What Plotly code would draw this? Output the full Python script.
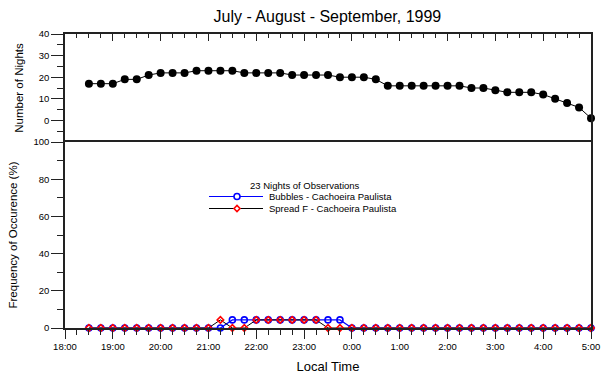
import plotly.graph_objects as go

# ---- data ----
times = ["18:30", "18:45", "19:00", "19:15", "19:30", "19:45", "20:00", "20:15", "20:30", "20:45",
         "21:00", "21:15", "21:30", "21:45", "22:00", "22:15", "22:30", "22:45", "23:00", "23:15",
         "23:30", "23:45", "0:00", "0:15", "0:30", "0:45", "1:00", "1:15", "1:30", "1:45",
         "2:00", "2:15", "2:30", "2:45", "3:00", "3:15", "3:30", "3:45", "4:00", "4:15",
         "4:30", "4:45", "5:00"]

nights = [17, 17, 17, 19, 19, 21, 22, 22, 22, 23,
          23, 23, 23, 22, 22, 22, 22, 21, 21, 21,
          21, 20, 20, 20, 19, 16, 16, 16, 16, 16,
          16, 16, 15, 15, 14, 13, 13, 13, 12, 10,
          8, 6, 1]

bubbles = [0, 0, 0, 0, 0, 0, 0, 0, 0, 0,
           0, 0, 4.35, 4.35, 4.35, 4.35, 4.35, 4.35, 4.35, 4.35,
           4.35, 4.35, 0, 0, 0, 0, 0, 0, 0, 0,
           0, 0, 0, 0, 0, 0, 0, 0, 0, 0,
           0, 0, 0]

spread_f = [0, 0, 0, 0, 0, 0, 0, 0, 0, 0,
            0, 4.35, 0, 0, 4.35, 4.35, 4.35, 4.35, 4.35, 4.35,
            0, 0, 0, 0, 0, 0, 0, 0, 0, 0,
            0, 0, 0, 0, 0, 0, 0, 0, 0, 0,
            0, 0, 0]

tick_labels = ["18:00", "19:00", "20:00", "21:00", "22:00", "23:00",
               "0:00", "1:00", "2:00", "3:00", "4:00", "5:00"]

legend_title = "23 Nights of Observations"
series_names = ["Bubbles - Cachoeira Paulista", "Spread F - Cachoeira Paulista"]


def to_hours(t):
    h, m = t.split(":")
    h = int(h)
    if h < 12:
        h += 24
    return h + int(m) / 60.0


x = [to_hours(t) for t in times]
tick_vals = [to_hours(t) for t in tick_labels]

FONT = "Liberation Sans, Arial, sans-serif"
AX = "#222222"
BLUE = "#0000ff"
RED = "#ff0000"

fig = go.Figure()

fig.add_trace(go.Scatter(
    x=x, y=nights, xaxis="x", yaxis="y", mode="lines+markers",
    line=dict(color="black", width=1),
    marker=dict(color="black", size=8, symbol="circle"),
    showlegend=False, cliponaxis=False))

fig.add_trace(go.Scatter(
    x=x, y=bubbles, xaxis="x2", yaxis="y2", mode="lines+markers",
    name=series_names[0],
    line=dict(color=BLUE, width=1.2),
    marker=dict(color=BLUE, size=6, symbol="circle-open", line=dict(width=1.6)),
    showlegend=False, cliponaxis=False))

fig.add_trace(go.Scatter(
    x=x, y=spread_f, xaxis="x2", yaxis="y2", mode="lines+markers",
    name=series_names[1],
    line=dict(color="black", width=1),
    marker=dict(color=RED, size=5, symbol="diamond-open", line=dict(width=1.6)),
    showlegend=False, cliponaxis=False))

split = 186 / 294

# ---- compact legend drawn as decoration (paper coordinates) ----
W, H = 603, 374
L, R, T, B = 65, 12, 34, 46
pw, ph = W - L - R, H - T - B


def px(xp):
    return (xp - L) / pw


def py(yp):
    return (H - B - yp) / ph


shapes = []
annotations = []
annotations.append(dict(text=legend_title, xref="paper", yref="paper", x=px(305), y=py(185),
                        xanchor="center", yanchor="middle", showarrow=False,
                        font=dict(size=9.5, family=FONT, color="black")))
for i, (nm, lc, mc) in enumerate(zip(series_names, [BLUE, "black"], [BLUE, RED])):
    yy = 196.5 + 12 * i
    shapes.append(dict(type="line", xref="paper", yref="paper", x0=px(209), x1=px(263),
                       y0=py(yy), y1=py(yy), line=dict(color=lc, width=1.2)))
    if i == 0:
        shapes.append(dict(type="circle", xref="paper", yref="paper",
                           x0=px(234), x1=px(240), y0=py(yy - 3), y1=py(yy + 3),
                           line=dict(color=mc, width=1.6), fillcolor="white"))
    else:
        cx, cy = px(237), py(yy)
        dx, dy = 3 / pw, 3 / ph
        shapes.append(dict(type="path", xref="paper", yref="paper",
                           path=f"M {cx - dx} {cy} L {cx} {cy + dy} L {cx + dx} {cy} L {cx} {cy - dy} Z",
                           line=dict(color=mc, width=1.6), fillcolor="white"))
    annotations.append(dict(text=nm, xref="paper", yref="paper", x=px(267), y=py(yy),
                            xanchor="left", yanchor="middle", showarrow=False,
                            font=dict(size=9.5, family=FONT, color="black")))

fig.update_layout(
    width=W, height=H,
    margin=dict(l=L, r=R, t=T, b=B),
    paper_bgcolor="white", plot_bgcolor="white",
    font=dict(family=FONT, color="black", size=9.5),
    title=dict(text="July - August - September, 1999", x=0.543, xanchor="center",
               y=0.955, yanchor="middle", font=dict(size=16, family=FONT)),
    xaxis=dict(domain=[0, 1], anchor="y", range=[18, 29], side="top",
               tickvals=tick_vals, showticklabels=False, ticks="inside", ticklen=7,
               tickcolor=AX, tickwidth=1.3,
               minor=dict(dtick=0.25, tick0=18, ticks="inside", ticklen=4, tickcolor=AX),
               showline=True, linecolor=AX, linewidth=1.5, mirror=False,
               showgrid=False, zeroline=False, automargin=False),
    yaxis=dict(domain=[split, 1], anchor="x", range=[-10, 40],
               tickvals=[0, 10, 20, 30, 40], ticks="outside", ticklen=12,
               tickcolor=AX, tickwidth=1.3,
               minor=dict(dtick=5, tick0=0, ticks="outside", ticklen=6, tickcolor=AX),
               showline=True, linecolor=AX, linewidth=1.5, mirror=True,
               showgrid=False, zeroline=False, automargin=False,
               title=dict(text="Number of Nights", font=dict(size=11.5), standoff=13)),
    xaxis2=dict(domain=[0, 1], anchor="y2", range=[18, 29], side="bottom",
                tickvals=tick_vals, ticktext=tick_labels, ticks="outside", ticklen=9,
                tickcolor=AX, tickwidth=1.3,
                minor=dict(dtick=0.25, tick0=18, ticks="outside", ticklen=5, tickcolor=AX),
                showline=True, linecolor=AX, linewidth=1.5, mirror=True,
                showgrid=False, zeroline=False, automargin=False,
                title=dict(text="Local Time", font=dict(size=13), standoff=11)),
    yaxis2=dict(domain=[0, split], anchor="x2", range=[0, 100],
                tickvals=[0, 20, 40, 60, 80, 100], ticks="outside", ticklen=12,
                tickcolor=AX, tickwidth=1.3,
                minor=dict(dtick=10, tick0=0, ticks="outside", ticklen=6, tickcolor=AX),
                showline=True, linecolor=AX, linewidth=1.5, mirror=True,
                showgrid=False, zeroline=False, automargin=False,
                title=dict(text="Frequency of Occurence (%)", font=dict(size=11.5), standoff=13)),
    showlegend=False,
    shapes=shapes,
    annotations=annotations,
)

fig.write_html("out.html", config={"displayModeBar": False},
               post_script="document.body.style.margin='0';")
